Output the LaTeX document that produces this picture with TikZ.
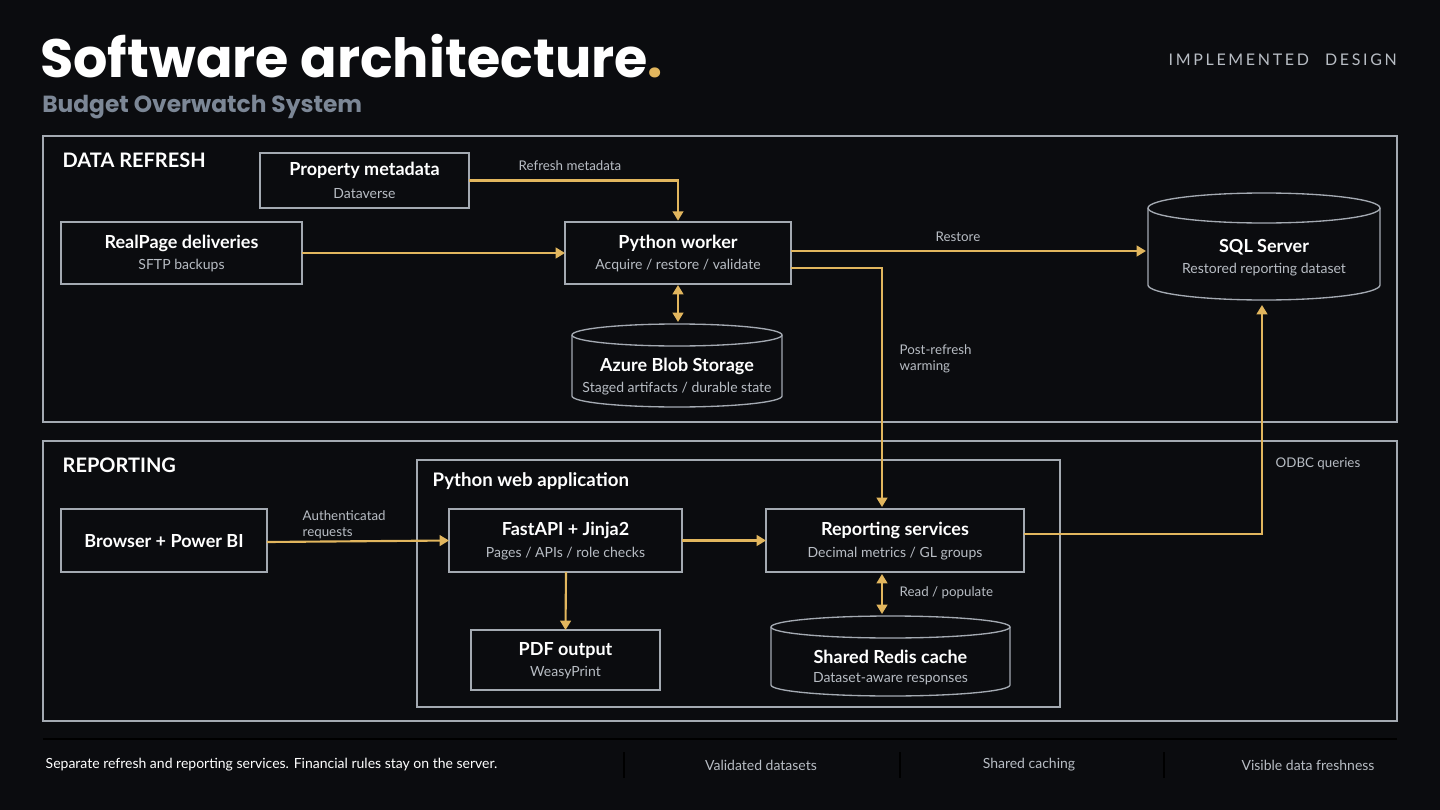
\documentclass[tikz,border=0pt]{standalone}
\usepackage{fontspec}
\setmainfont{Lato}
\newfontfamily\titlefont{Poppins}
\usetikzlibrary{arrows.meta}
\definecolor{bg}{HTML}{0B0C0F}
\definecolor{gold}{HTML}{E2B65E}
\definecolor{stroke}{HTML}{A4AAB2}
\definecolor{sub}{HTML}{7C8796}
\definecolor{muted}{HTML}{B8BDC4}
\begin{document}
\begin{tikzpicture}[x=0.75pt,y=-0.75pt,
  box/.style={draw=stroke,line width=1pt},
  ttl/.style={text=white,font=\bfseries\fontsize{13.5}{15}\selectfont},
  sml/.style={text=muted,font=\fontsize{10.5}{12}\selectfont},
  lbl/.style={text=muted,font=\fontsize{10}{12}\selectfont,align=left},
  arr/.style={draw=gold,line width=1.6pt,-{Triangle[length=7pt,width=8pt]}},
  darr/.style={draw=gold,line width=1.6pt,{Triangle[length=7pt,width=8pt]}-{Triangle[length=7pt,width=8pt]}},
  sec/.style={text=white,font=\bfseries\fontsize{15}{17}\selectfont,anchor=west}]
\fill[bg] (0,0) rectangle (1440,810);
\useasboundingbox (0,0) rectangle (1440,810);
% header
\node[anchor=base west,inner sep=0,text=white,font=\titlefont\bfseries\fontsize{40.5}{45}\selectfont] (title) at (40,77) {Software architecture\textcolor{gold}{.}};
\node[anchor=base west,inner sep=0,text=sub,font=\titlefont\bfseries\fontsize{17.5}{21}\selectfont] (subt) at (42,112) {Budget Overwatch System};
\node[anchor=east,inner sep=0,text=muted,font=\fontsize{12}{14}\selectfont] (impl) at (1397,60) {I\,M\,P\,L\,E\,M\,E\,N\,T\,E\,D\quad D\,E\,S\,I\,G\,N};
% sections
\draw[box] (43,136) rectangle (1397,422);
\draw[box] (43,441) rectangle (1397,721);
\draw[box] (417,460) rectangle (1060,707);
\node[sec] (s1) at (58,160) {DATA REFRESH};
\node[sec] (s2) at (58,465) {REPORTING};
\node[anchor=west,text=white,font=\bfseries\fontsize{14}{16}\selectfont] (web) at (428,481) {Python web application};
% rectangles
\newcommand{\rbox}[7]{\draw[box] (#2,#3) rectangle (#4,#5);
  \node[ttl] (#1) at ({(#2+#4)/2},{(#3+#5)/2-10}) {#6};
  \node[sml] (#1s) at ({(#2+#4)/2},{(#3+#5)/2+13}) {#7};
  \coordinate (#1N) at ({(#2+#4)/2},#3); \coordinate (#1S) at ({(#2+#4)/2},#5);
  \coordinate (#1W) at (#2,{(#3+#5)/2}); \coordinate (#1E) at (#4,{(#3+#5)/2});}
\rbox{prop}{260}{153}{469}{208}{Property metadata}{Dataverse}
\rbox{rp}{61}{222}{302}{284}{RealPage deliveries}{SFTP backups}
\rbox{pw}{565}{222}{791}{284}{Python worker}{Acquire / restore / validate}
\rbox{fa}{449}{509}{682}{572}{FastAPI + Jinja2}{Pages / APIs / role checks}
\rbox{rs}{766}{509}{1024}{572}{Reporting services}{Decimal metrics / GL groups}
\rbox{pdf}{471}{630}{660}{690}{PDF output}{WeasyPrint}
\draw[box] (61,509) rectangle (267,572);
\node[ttl] (br) at (164,541) {Browser + Power BI};
\coordinate (brE) at (267,542);
% cylinders
\newcommand{\cyl}[8]{% name x1 x2 ytop ybot ry title sub
  \draw[box,fill=bg] (#2,#4) -- (#2,#5) arc[start angle=180,end angle=0,x radius={(#3-#2)/2},y radius=#6] -- (#3,#4);
  \draw[box] ({(#2+#3)/2},#4) ellipse[x radius={(#3-#2)/2},y radius=#6];
  \node[ttl] (#1) at ({(#2+#3)/2},{(#4+#5)/2+1}) {#7};
  \node[sml] (#1s) at ({(#2+#3)/2},{(#4+#5)/2+23}) {#8};
  \coordinate (#1N) at ({(#2+#3)/2},{#4-#6}); \coordinate (#1S) at ({(#2+#3)/2},{#5+#6});}
\cyl{az}{572}{782}{335}{396}{11}{Azure Blob Storage}{Staged artifacts / durable state}
\cyl{sql}{1148}{1380}{208}{285}{15}{SQL Server}{Restored reporting dataset}
\cyl{rd}{771}{1010}{627}{685}{11}{Shared Redis cache}{Dataset-aware responses}
% arrows
\draw[arr] (propE) -| ([yshift=1]pwN);
\node[lbl] at (570,166) {Refresh metadata};
\draw[arr] (rpE) -- (pwW);
\draw[arr] (791,251) -- (1146,251);
\node[lbl] at (958,237) {Restore};
\draw[arr] (791,268) -| (882,507);
\node[lbl,anchor=north west] at (895,340) {Post-refresh\\warming};
\draw[darr] (678,285) -- (678,322);
\draw[arr] (brE) -- (faW);
\node[lbl,anchor=north west] at (298,506) {Authenticatad\\requests};
\draw[arr] (faE) -- (rsW);
\draw[arr] (566,572) -- (pdfN);
\draw[arr] (1024,534) -| (1262,305);
\node[lbl,anchor=west] at (1271,464) {ODBC queries};
\draw[darr] (882,574) -- (882,614);
\node[lbl,anchor=west] at (895,593) {Read / populate};
% footer
\draw[stroke,line width=0.8pt] (43,739) -- (1397,739);
\foreach \x in {624,900,1164} \draw[stroke,line width=1pt] (\x,752) -- (\x,778);
\node[anchor=west,text=white,font=\fontsize{10.5}{12}\selectfont] (f1) at (41,765) {Separate refresh and reporting services. Financial rules stay on the server.};
\node[text=muted,font=\fontsize{10.5}{12}\selectfont] (f2) at (761,765) {Validated datasets};
\node[text=muted,font=\fontsize{10.5}{12}\selectfont] (f3) at (1029,765) {Shared caching};
\node[text=muted,font=\fontsize{10.5}{12}\selectfont] (f4) at (1308,765) {Visible data freshness};
\end{tikzpicture}
\end{document}
